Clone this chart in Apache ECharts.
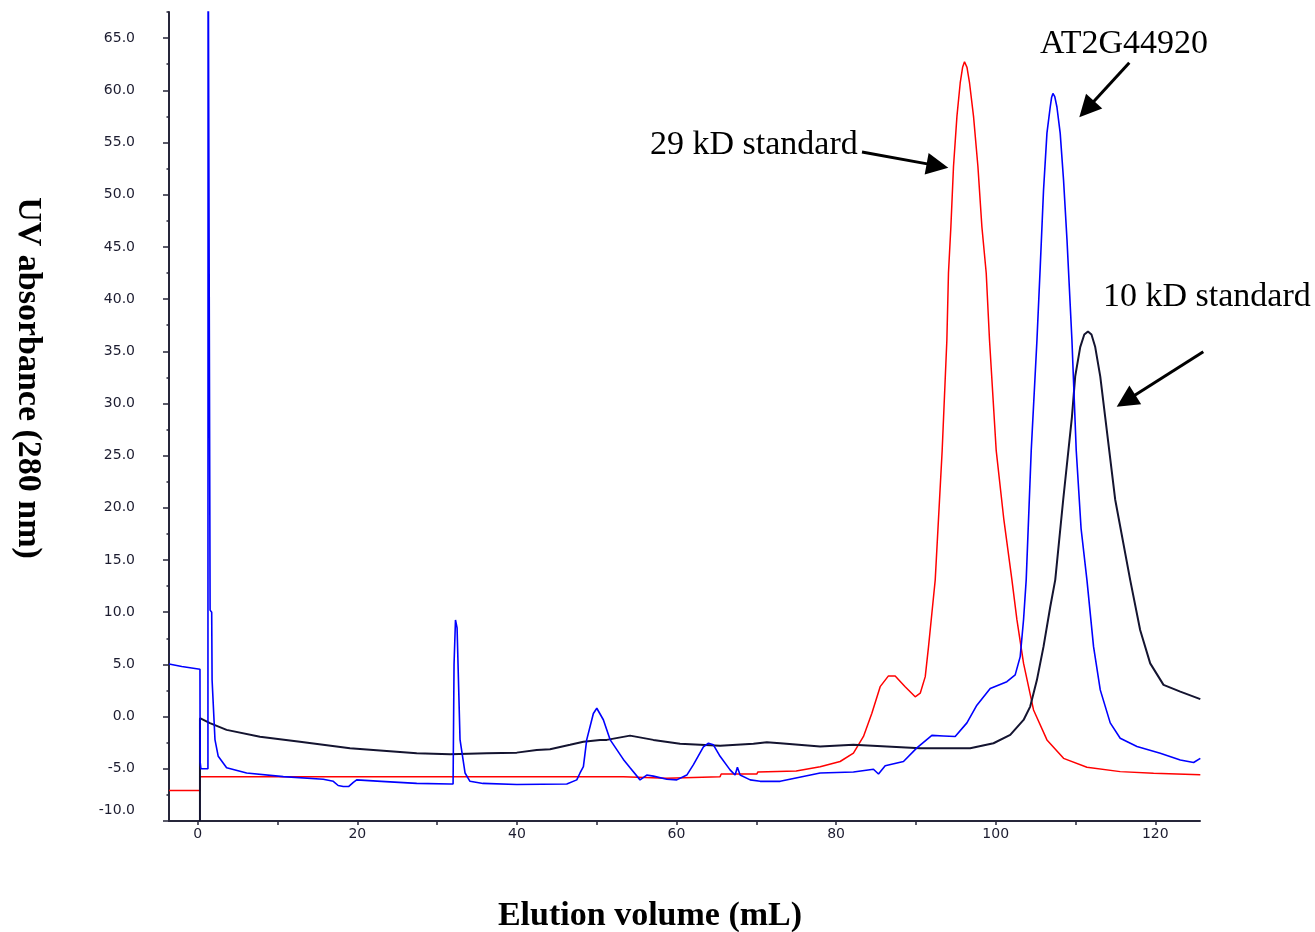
<!DOCTYPE html>
<html>
<head>
<meta charset="utf-8">
<script src="https://cdn.jsdelivr.net/npm/echarts@6/dist/echarts.min.js"></script>
<style>html,body{margin:0;padding:0;background:#fff;}#c{width:1315px;height:932px;}</style>
</head>
<body>
<div id="c"></div>
<script>
// Tick labels
const xTickLabels = [0, 20, 40, 60, 80, 100, 120];
const xTickMarks = [0, 10, 20, 30, 40, 50, 60, 70, 80, 90, 100, 110, 120];
const yTickLabels = [-10, -5, 0, 5, 10, 15, 20, 25, 30, 35, 40, 45, 50, 55, 60, 65];

// AT2G44920 (blue trace): [elution volume mL, UV absorbance]
const seriesAT2G44920 = [
  [-3.6, 5.04], [-2.0, 4.8], [0.28, 4.54], [0.3, -4.3], [0.4, -5.0], [1.28, -5.0], [1.3, 80], [1.5, 80],
  [1.55, 10.2], [1.75, 10.0], [1.8, 3.5], [1.95, 3.4], [2.16, -2.2], [2.57, -3.8], [3.62, -4.9], [6.13, -5.4],
  [10.72, -5.75], [15.73, -6.0], [16.99, -6.2], [17.6, -6.6], [18.24, -6.7], [18.9, -6.7], [19.5, -6.3],
  [19.92, -6.06], [23.0, -6.2], [27.44, -6.4], [31.62, -6.45], [32.0, -6.45], [32.12, 5.0], [32.3, 9.26],
  [32.5, 8.5], [32.87, -2.2], [33.5, -5.4], [34.12, -6.2], [35.75, -6.4], [39.98, -6.5], [46.25, -6.45],
  [47.5, -6.06], [47.91, -5.4], [48.33, -4.8], [48.75, -2.2], [49.58, 0.3], [50.01, 0.8], [50.83, -0.3],
  [51.67, -2.2], [53.34, -4.1], [54.18, -4.9], [55.43, -6.06], [56.27, -5.6], [57.1, -5.7], [58.78, -6.0],
  [60.03, -6.06], [61.29, -5.6], [62.12, -4.6], [63.37, -2.9], [64.0, -2.55], [64.62, -2.7], [65.46, -3.8],
  [66.71, -5.1], [67.34, -5.6], [67.63, -4.85], [67.97, -5.6], [69.23, -6.06], [70.48, -6.2], [72.99, -6.2],
  [78.0, -5.4], [82.17, -5.3], [84.68, -5.04], [85.31, -5.5], [86.15, -4.7], [88.44, -4.3], [90.12, -3.0],
  [92.0, -1.8], [93.46, -1.85], [94.92, -1.9], [96.39, -0.6], [97.64, 1.1], [99.31, 2.7], [101.4, 3.35],
  [102.44, 4.0], [103.07, 5.75], [103.49, 9.3], [103.82, 13.1], [104.45, 25.5], [105.17, 36.1], [105.58, 43.1],
  [105.99, 50.4], [106.42, 55.9], [106.83, 58.4], [107.0, 59.3], [107.17, 59.7], [107.4, 59.4], [107.67, 58.4],
  [108.08, 55.9], [108.5, 51.4], [108.93, 45.7], [109.55, 36.1], [110.09, 25.5], [110.7, 18.0], [111.43, 13.1],
  [112.26, 6.7], [113.1, 2.56], [114.35, -0.6], [115.6, -2.07], [117.7, -2.87], [120.62, -3.5], [123.13, -4.15],
  [124.8, -4.4], [125.64, -4.0]
];

// 29 kD standard (red trace)
const series29kD = [
  [-3.6, -7.09], [0.28, -7.09], [0.3, -5.75], [53.34, -5.75], [53.5, -5.9], [58.78, -5.9], [58.9, -5.75],
  [65.46, -5.75], [65.6, -5.5], [70.06, -5.5], [70.2, -5.3], [75.0, -5.2], [78.0, -4.8], [80.5, -4.3],
  [82.17, -3.5], [83.43, -1.9], [84.48, 0.33], [85.52, 2.87], [86.56, 3.9], [87.4, 3.9], [88.65, 2.87],
  [89.91, 1.9], [90.54, 2.24], [91.17, 3.83], [91.58, 6.7], [92.0, 9.9], [92.42, 13.1], [93.29, 25.5],
  [93.88, 36.1], [94.08, 42.5], [94.38, 46.9], [94.71, 52.7], [95.14, 57.5], [95.55, 60.7], [95.85, 62.2],
  [96.09, 62.74], [96.4, 62.2], [96.72, 60.7], [97.22, 57.5], [97.77, 52.7], [98.27, 46.9], [98.81, 42.5],
  [99.22, 36.1], [100.06, 25.5], [101.0, 19.0], [102.03, 13.1], [102.66, 9.26], [103.49, 5.1], [104.74, 0.64],
  [106.42, -2.23], [108.5, -4.0], [111.43, -4.85], [115.6, -5.27], [119.78, -5.42], [125.64, -5.58]
];

// 10 kD standard (black trace)
const series10kD = [
  [0.28, -10], [0.28, -0.15], [1.53, -0.63], [3.62, -1.27], [7.8, -1.92], [12.81, -2.4], [19.08, -3.03],
  [27.44, -3.5], [31.62, -3.6], [36.22, -3.5], [39.98, -3.45], [42.48, -3.19], [44.15, -3.12], [46.66, -2.7],
  [48.33, -2.4], [50.42, -2.23], [51.26, -2.23], [54.18, -1.82], [57.1, -2.23], [60.44, -2.6], [65.46, -2.78],
  [69.64, -2.6], [71.32, -2.45], [72.99, -2.55], [78.0, -2.87], [82.17, -2.7], [90.54, -3.03], [96.8, -3.03],
  [99.72, -2.55], [101.82, -1.75], [103.49, -0.32], [104.32, 0.96], [105.16, 3.5], [105.99, 6.7], [106.83, 10.5],
  [107.46, 13.1], [108.46, 20.8], [109.55, 28.7], [109.96, 32.6], [110.59, 35.4], [111.1, 36.6], [111.56, 36.9],
  [112.0, 36.6], [112.47, 35.4], [113.1, 32.6], [113.72, 28.7], [114.97, 20.8], [116.85, 13.1], [118.1, 8.3],
  [119.36, 5.1], [121.03, 3.04], [123.13, 2.4], [125.64, 1.67]
];

const annotations = [
  { text: '29 kD standard', x: 650, y: 145, from: [862, 152], to: [948.3, 167.7] },
  { text: 'AT2G44920', x: 1040, y: 44, from: [1129.3, 62.7], to: [1079.3, 117.3] },
  { text: '10 kD standard', x: 1103, y: 297, from: [1203.3, 351.7], to: [1116.7, 406.7] }
];

function arrowGraphics(a) {
  const [x1, y1] = a.from, [x2, y2] = a.to;
  const dx = x2 - x1, dy = y2 - y1, len = Math.hypot(dx, dy);
  const ux = dx / len, uy = dy / len, L = 22, W = 11;
  const bx = x2 - ux * L, by = y2 - uy * L;
  return [
    { type: 'line', shape: { x1: x1, y1: y1, x2: bx + ux * 2, y2: by + uy * 2 }, style: { stroke: '#000', lineWidth: 3 } },
    { type: 'polygon', shape: { points: [[x2, y2], [bx - uy * W, by + ux * W], [bx + uy * W, by - ux * W]] }, style: { fill: '#000' } }
  ];
}

const graphics = [];
annotations.forEach(a => {
  graphics.push({ type: 'text', x: a.x, y: a.y, style: { text: a.text, font: '34px "Liberation Serif"', fill: '#000', align: 'left', verticalAlign: 'middle' } });
  arrowGraphics(a).forEach(g => graphics.push(g));
});
graphics.push({ type: 'text', x: 650, y: 916, style: { text: 'Elution volume (mL)', font: 'bold 34px "Liberation Serif"', fill: '#000', align: 'center', verticalAlign: 'middle' } });
graphics.push({ type: 'text', x: 28, y: 378, rotation: -Math.PI / 2, style: { text: 'UV absorbance (280 nm)', font: 'bold 34px "Liberation Serif"', fill: '#000', align: 'center', verticalAlign: 'middle' } });

const labelFont = { fontFamily: 'DejaVu Sans', fontSize: 14, color: '#1c1c30' };
const axisColor = '#26263a';

const chart = echarts.init(document.getElementById('c'), null, { renderer: 'canvas' });
chart.setOption({
  backgroundColor: '#fff',
  animation: false,
  grid: { left: 169, right: 115, top: 12, bottom: 111, containLabel: false, outerBoundsMode: 'none' },
  xAxis: {
    type: 'value', min: -3.6, max: 125.6,
    axisLine: { show: true, onZero: false, lineStyle: { color: axisColor, width: 2 } },
    axisTick: { show: true, customValues: xTickMarks, length: 4, lineStyle: { color: axisColor, width: 1.5 } },
    axisLabel: Object.assign({ customValues: xTickLabels, margin: 6 }, labelFont),
    splitLine: { show: false }
  },
  yAxis: [{
    type: 'value', min: -10, max: 67.5,
    axisLine: { show: true, onZero: false, lineStyle: { color: axisColor, width: 2 } },
    axisTick: { show: true, customValues: yTickLabels, length: 6, lineStyle: { color: axisColor, width: 1.5 } },
    axisLabel: Object.assign({
      customValues: yTickLabels, margin: 34,
      formatter: v => v === -10 ? '{lo|-10.0}' : v.toFixed(1),
      rich: { lo: { fontFamily: 'DejaVu Sans', fontSize: 14, color: '#1c1c30', padding: [0, 0, 22, 0] } }
    }, labelFont),
    splitLine: { show: false }
  }, {
    type: 'value', min: -10, max: 67.5, interval: 2.5, position: 'left',
    axisLine: { show: false, onZero: false },
    axisTick: { show: true, length: 2.5, lineStyle: { color: axisColor, width: 1.5 } },
    axisLabel: { show: false },
    splitLine: { show: false }
  }],
  graphic: graphics,
  series: [
    { name: '29 kD standard', type: 'line', data: series29kD, showSymbol: false, symbol: 'none', lineStyle: { color: '#ff0000', width: 1.5 }, z: 2 },
    { name: '10 kD standard', type: 'line', data: series10kD, showSymbol: false, symbol: 'none', lineStyle: { color: '#141430', width: 2 }, z: 3 },
    { name: 'AT2G44920', type: 'line', data: seriesAT2G44920, showSymbol: false, symbol: 'none', lineStyle: { color: '#0000ff', width: 1.6 }, z: 4 }
  ]
});
</script>
</body>
</html>
